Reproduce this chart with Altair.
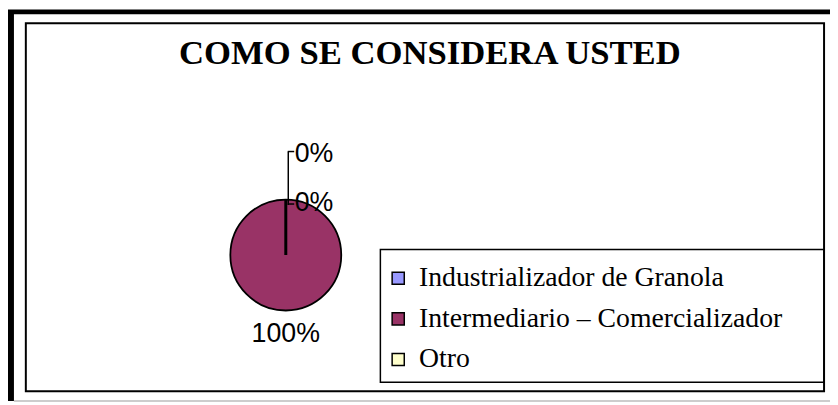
import altair as alt
import pandas as pd

# ---- data ----
categorias = ["Industrializador de Granola", "Intermediario – Comercializador", "Otro"]
valores = [0, 100, 0]
colores = ["#9999FF", "#993366", "#FFFFCC"]
titulo = "COMO SE CONSIDERA USTED"

df = pd.DataFrame({
    "categoria": categorias,
    "valor": valores,
    "orden": list(range(len(categorias))),
})

# ---- layout (plot-area pixels) ----
W, H = 830, 397
CX, CY = 280.5, 247.5
R = 56

base = alt.Chart(df).transform_joinaggregate(
    total="sum(valor)"
).transform_calculate(pct="datum.valor / datum.total")

theta = alt.Theta("valor:Q", stack=True)
order = alt.Order("orden:Q")

pie = base.mark_arc(radius=R, stroke="black").encode(
    theta=theta,
    order=order,
    strokeWidth=alt.condition(alt.datum.valor == 0, alt.value(3), alt.value(1.8)),
    color=alt.Color(
        "categoria:N",
        scale=alt.Scale(domain=categorias, range=colores),
        legend=alt.Legend(
            title=None, orient="none", legendX=380, legendY=257,
            symbolType="square", symbolSize=150, symbolStrokeColor="black",
            symbolStrokeWidth=1.5, labelFont="Liberation Serif", labelFontSize=28,
            labelColor="black", labelOffset=7, rowPadding=13, padding=0,
            labelLimit=600,
        ),
    ),
    x=alt.value(CX), y=alt.value(CY),
)

txt = dict(font="Liberation Sans", fontSize=27, color="black", baseline="middle")

lab_main = base.transform_filter(alt.datum.valor > 0).mark_text(
    radius=80, align="center", **txt
).encode(theta=theta, order=order, text=alt.Text("pct:Q", format=".0%"),
         x=alt.value(CX), y=alt.value(CY))

lab_a = base.transform_filter(alt.datum.categoria == categorias[0]).mark_text(
    radius=52, align="left", dx=9, **txt
).encode(theta=theta, order=order, text=alt.Text("pct:Q", format=".0%"),
         x=alt.value(CX), y=alt.value(CY))

lab_b = base.transform_filter(alt.datum.categoria == categorias[2]).mark_text(
    radius=102, align="left", dx=9, **txt
).encode(theta=theta, order=order, text=alt.Text("pct:Q", format=".0%"),
         x=alt.value(CX), y=alt.value(CY))

dummy = alt.Chart(pd.DataFrame({"d": [0]}))

# leader lines
lead_v = dummy.mark_rule(color="black", strokeWidth=1.5).encode(
    x=alt.value(283), y=alt.value(143), y2=alt.value(197))
lead_t1 = dummy.mark_rule(color="black", strokeWidth=1.5).encode(
    x=alt.value(282.5), x2=alt.value(289), y=alt.value(143))
lead_t2 = dummy.mark_rule(color="black", strokeWidth=1.5).encode(
    x=alt.value(282.5), x2=alt.value(289), y=alt.value(196))

# frames
outer_left = dummy.mark_rule(color="black", strokeWidth=6).encode(
    x=alt.value(3), y=alt.value(0), y2=alt.value(395))
outer_top = dummy.mark_rule(color="black", strokeWidth=5).encode(
    x=alt.value(0), x2=alt.value(W), y=alt.value(2))
outer_bottom = dummy.mark_rule(color="#bdbdbd", strokeWidth=1.5).encode(
    x=alt.value(6), x2=alt.value(W), y=alt.value(395))
inner = dummy.mark_rect(fill="transparent", stroke="black", strokeWidth=2).encode(
    x=alt.value(18), x2=alt.value(824), y=alt.value(13.5), y2=alt.value(385))
legend_box = dummy.mark_rect(fill="transparent", stroke="black", strokeWidth=1.5).encode(
    x=alt.value(376), x2=alt.value(824), y=alt.value(242), y2=alt.value(376))

chart = alt.layer(
    outer_left, outer_top, outer_bottom, inner, legend_box,
    pie, lead_v, lead_t1, lead_t2, lab_main, lab_a, lab_b,
).properties(
    width=W, height=H,
    autosize=alt.AutoSizeParams(type="none"),
    padding={"left": 0, "top": 0, "right": 0, "bottom": 0},
    background="white",
    title=alt.TitleParams(
        titulo, font="Liberation Serif", fontSize=35, fontWeight="bold",
        color="black", anchor="middle", baseline="alphabetic", offset=0,
        dy=93, dx=11, frame="group",
    ),
).configure_view(strokeOpacity=0)

chart.save("out.html", embed_options={"renderer": "svg", "actions": False})
